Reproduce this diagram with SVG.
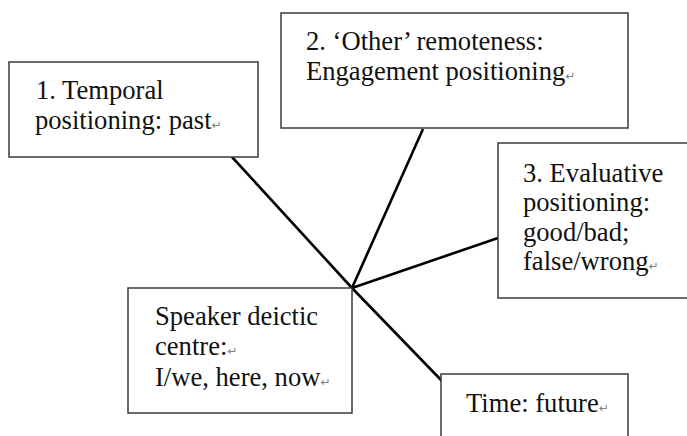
<svg xmlns="http://www.w3.org/2000/svg" width="687" height="436" viewBox="0 0 687 436">
  <style>
    .box { fill: #ffffff; stroke: #3a3a3a; stroke-width: 1.5; }
    .conn { stroke: #000000; stroke-width: 2.6; fill: none; stroke-linecap: butt; }
    .lbl { font-family: "Liberation Serif", "Times New Roman", serif; font-size: 26.6px; fill: #111111; }
    .ret { font-family: "DejaVu Sans", sans-serif; font-size: 12px; fill: #808080; }
  </style>
  <rect width="687" height="436" fill="#ffffff"/>

  <!-- connectors from the deictic centre -->
  <g id="connectors">
    <line class="conn" x1="352" y1="288" x2="232" y2="157"/>
    <line class="conn" x1="352" y1="288" x2="423" y2="129"/>
    <line class="conn" x1="352" y1="288" x2="498" y2="238"/>
    <line class="conn" x1="352" y1="288" x2="442" y2="381"/>
  </g>

  <g id="temporal-past">
    <rect class="box" x="9" y="62" width="249" height="95"/>
    <text class="lbl" x="36" y="99">1. Temporal</text>
    <text class="lbl" x="35" y="129">positioning: past<tspan class="ret">↵</tspan></text>
  </g>

  <g id="other-remoteness">
    <rect class="box" x="281" y="13" width="347" height="115"/>
    <text class="lbl" x="306" y="50">2. ‘Other’ remoteness:</text>
    <text class="lbl" x="306" y="80">Engagement positioning<tspan class="ret">↵</tspan></text>
  </g>

  <g id="evaluative">
    <rect class="box" x="498" y="143" width="210" height="155"/>
    <text class="lbl" x="523" y="182">3. Evaluative</text>
    <text class="lbl" x="523" y="211">positioning:</text>
    <text class="lbl" x="523" y="241">good/bad;</text>
    <text class="lbl" x="523" y="270">false/wrong<tspan class="ret">↵</tspan></text>
  </g>

  <g id="deictic-centre">
    <rect class="box" x="128" y="288" width="224" height="125"/>
    <text class="lbl" x="155" y="325">Speaker deictic</text>
    <text class="lbl" x="155" y="355">centre:<tspan class="ret">↵</tspan></text>
    <text class="lbl" x="155" y="386">I/we, here, now<tspan class="ret">↵</tspan></text>
  </g>

  <g id="time-future">
    <rect class="box" x="441" y="374" width="187" height="80"/>
    <text class="lbl" x="466" y="412">Time: future<tspan class="ret">↵</tspan></text>
  </g>
</svg>
